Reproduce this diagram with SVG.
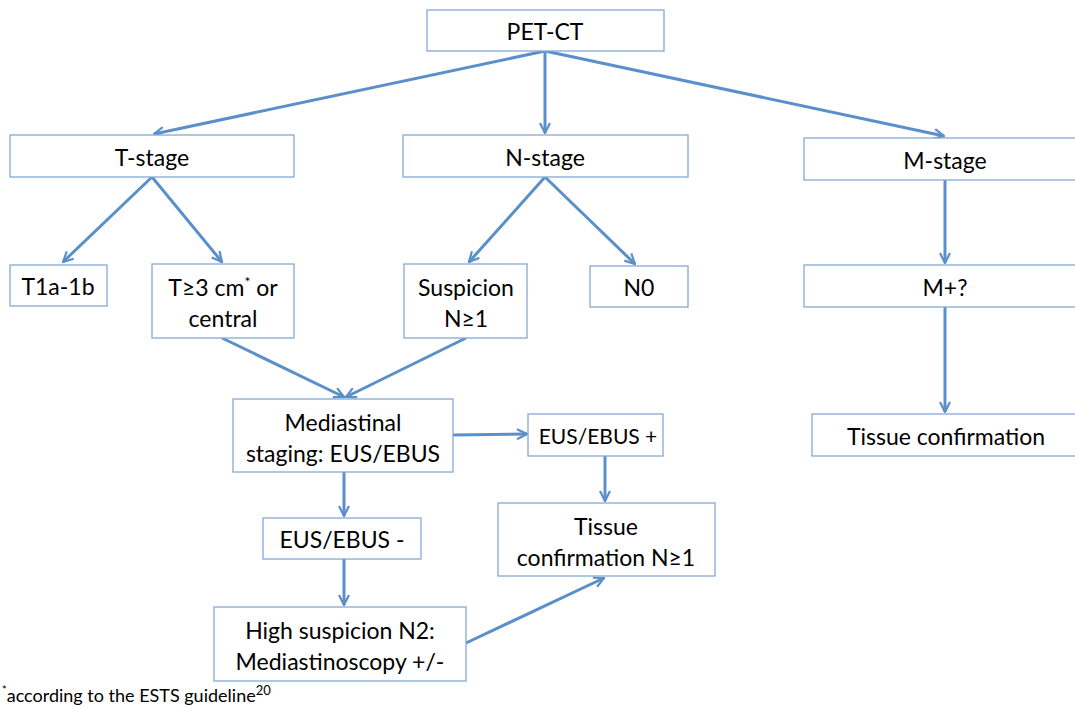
<svg xmlns="http://www.w3.org/2000/svg" width="1075" height="708" viewBox="0 0 1075 708">
<defs>
<marker id="ah" viewBox="0 0 12 12" refX="11" refY="6" markerWidth="12" markerHeight="12" markerUnits="userSpaceOnUse" orient="auto">
<polyline points="1,1 11,6 1,11" fill="none" stroke="#5B8FCA" stroke-width="2.2"/>
</marker>
<style>
.b{fill:#fff;stroke:#86AAD6;stroke-width:1.3}
.t{font-family:Lato,"Open Sans",sans-serif;font-size:23px;fill:#000;text-anchor:middle}
.c{stroke:#5B8FCA;stroke-width:3;fill:none;marker-end:url(#ah)}
</style>
</defs>
<rect width="1075" height="708" fill="#fff"/>
<g id="connectors">
<line class="c" x1="545" y1="51" x2="154" y2="134"/>
<line class="c" x1="545" y1="51" x2="545" y2="133"/>
<line class="c" x1="545" y1="51" x2="944" y2="136"/>
<line class="c" x1="152" y1="177" x2="63" y2="262"/>
<line class="c" x1="152" y1="177" x2="222" y2="262"/>
<line class="c" x1="545" y1="177" x2="469" y2="262"/>
<line class="c" x1="545" y1="177" x2="635" y2="264"/>
<line class="c" x1="945" y1="180" x2="945" y2="263"/>
<line class="c" x1="945" y1="307" x2="945" y2="412"/>
<line class="c" x1="222" y1="338" x2="344" y2="397"/>
<line class="c" x1="466" y1="338" x2="346" y2="397"/>
<line class="c" x1="453" y1="435" x2="527" y2="434"/>
<line class="c" x1="344" y1="472" x2="344" y2="516"/>
<line class="c" x1="605" y1="456" x2="605" y2="501"/>
<line class="c" x1="344" y1="559" x2="344" y2="605"/>
<line class="c" x1="466" y1="643" x2="604" y2="578"/>
</g>
<g id="pet-ct"><rect class="b" x="427" y="10" width="237" height="41"/><text class="t" x="545" y="40">PET-CT</text></g>
<g id="t-stage"><rect class="b" x="10" y="135" width="284" height="42"/><text class="t" x="152" y="166">T-stage</text></g>
<g id="n-stage"><rect class="b" x="403" y="135" width="285" height="42"/><text class="t" x="545" y="166">N-stage</text></g>
<g id="m-stage"><rect class="b" x="804" y="138" width="280" height="42"/><text class="t" x="945" y="169">M-stage</text></g>
<g id="t1a"><rect class="b" x="10" y="265" width="97" height="41"/><text class="t" x="58" y="295">T1a-1b</text></g>
<g id="t3"><rect class="b" x="152" y="264" width="142" height="74"/><text class="t" x="223" y="296">T≥3 cm<tspan font-size="14" dy="-9">*</tspan><tspan dy="9"> or</tspan></text><text class="t" x="223" y="327">central</text></g>
<g id="suspicion"><rect class="b" x="404" y="264" width="123" height="74"/><text class="t" x="466" y="296">Suspicion</text><text class="t" x="466" y="327">N≥1</text></g>
<g id="n0"><rect class="b" x="590" y="266" width="98" height="41"/><text class="t" x="639" y="296">N0</text></g>
<g id="m-plus"><rect class="b" x="804" y="265" width="280" height="42"/><text class="t" x="945" y="296">M+?</text></g>
<g id="mediastinal"><rect class="b" x="233" y="399" width="220" height="73"/><text class="t" x="343" y="431">Mediastinal</text><text class="t" x="343" y="462">staging: EUS/EBUS</text></g>
<g id="eus-plus"><rect class="b" x="528" y="414" width="135" height="42"/><text class="t" x="598" y="444" style="font-size:21px">EUS/EBUS +</text></g>
<g id="tissue-m"><rect class="b" x="812" y="414" width="272" height="42"/><text class="t" x="946" y="445">Tissue confirmation</text></g>
<g id="eus-minus"><rect class="b" x="263" y="518" width="158" height="41"/><text class="t" x="342" y="548">EUS/EBUS -</text></g>
<g id="tissue-n"><rect class="b" x="498" y="503" width="217" height="73"/><text class="t" x="606" y="535">Tissue</text><text class="t" x="606" y="566">confirmation N≥1</text></g>
<g id="high"><rect class="b" x="214" y="607" width="252" height="74"/><text class="t" x="340" y="639">High suspicion N2:</text><text class="t" x="340" y="670">Mediastinoscopy +/-</text></g>
<text font-family="Lato,'Open Sans',sans-serif" font-size="18" x="2" y="702"><tspan font-size="11" dy="-8">*</tspan><tspan dy="8">according to the ESTS guideline</tspan><tspan font-size="13" dy="-7">20</tspan></text>
</svg>
